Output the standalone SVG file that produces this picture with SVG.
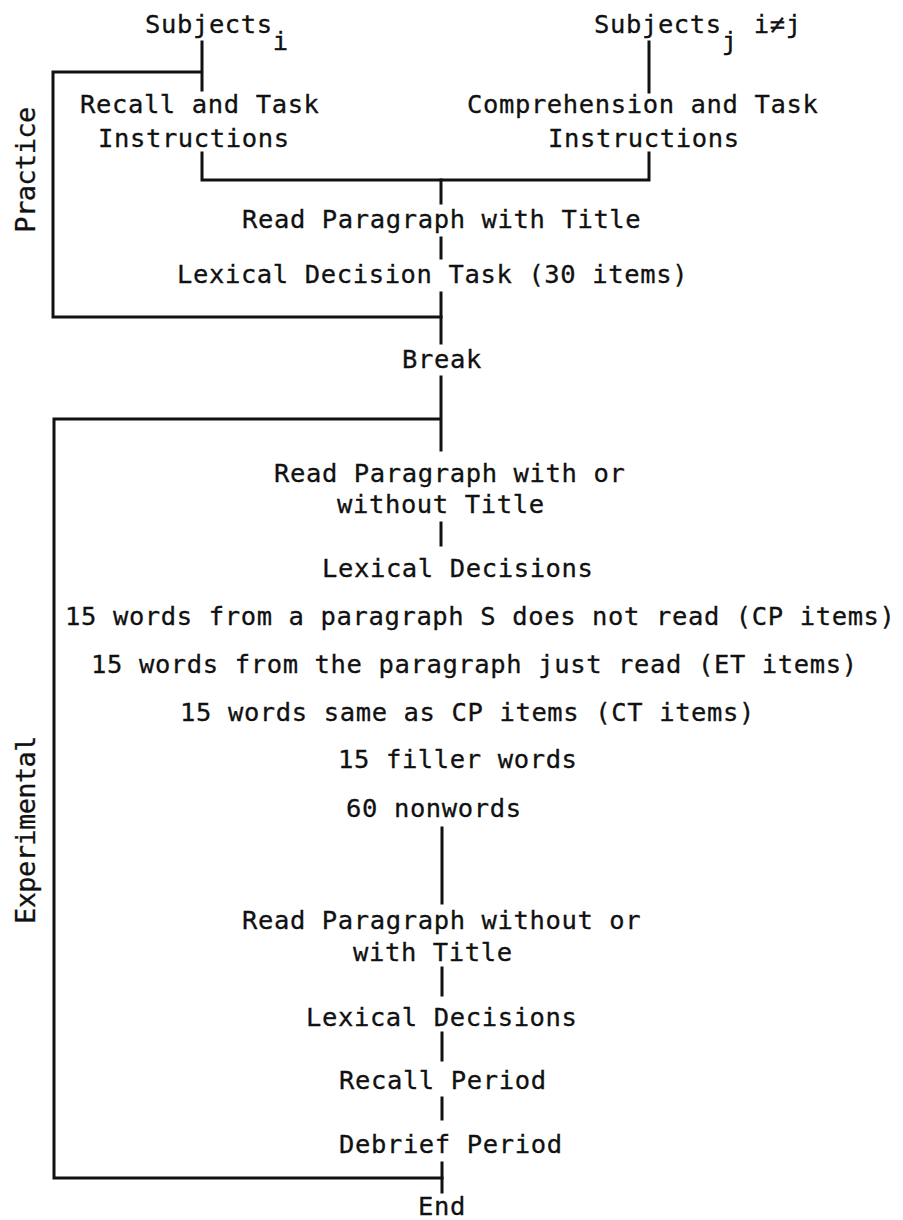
<svg xmlns="http://www.w3.org/2000/svg" width="903" height="1220" viewBox="0 0 903 1220">
<style>
text{font-family:"DejaVu Sans Mono","Liberation Mono",monospace;font-size:25.5px;letter-spacing:0.62px;fill:#111;stroke:#111;stroke-width:0.3}
.lbl{font-size:27px;letter-spacing:-0.6px;text-anchor:middle}
.c{stroke:#111;stroke-width:3;fill:none;stroke-linecap:square}
</style>
<rect width="903" height="1220" fill="#fff"/>
<g id="connectors" class="c">
<path d="M202 42V90M53 72H202M53 72V317H441"/>
<path d="M649 42V92"/>
<path d="M202 153V180H649V153"/>
<path d="M441 180V203M441 238V258M441 293V343"/>
<path d="M441 377V450M54 419H441M54 419V1178H442"/>
<path d="M441 523V545"/>
<path d="M442 828V903M442 968V995M442 1033V1060M442 1098V1119M442 1163V1192"/>
</g>
<g id="label-practice"><text class="lbl" transform="translate(35 170) rotate(-90)">Practice</text></g>
<g id="label-experimental"><text class="lbl" transform="translate(35 830) rotate(-90)">Experimental</text></g>
<g id="subjects-i"><text x="145" y="33">Subjects<tspan dy="17">i</tspan></text></g>
<g id="subjects-j"><text x="594" y="33">Subjects<tspan dy="17">j</tspan><tspan dy="-17"> i≠j</tspan></text></g>
<g id="recall-instr"><text x="80" y="113">Recall and Task</text><text x="98" y="147">Instructions</text></g>
<g id="comp-instr"><text x="467" y="113">Comprehension and Task</text><text x="548" y="147">Instructions</text></g>
<g id="read-practice"><text x="242" y="228">Read Paragraph with Title</text></g>
<g id="lex-practice"><text x="177" y="283">Lexical Decision Task (30 items)</text></g>
<g id="break"><text x="402" y="368">Break</text></g>
<g id="read-1"><text x="274" y="482">Read Paragraph with or</text><text x="337" y="513">without Title</text></g>
<g id="lex-1">
<text x="322" y="577">Lexical Decisions</text>
<text x="65" y="625">15 words from a paragraph S does not read (CP items)</text>
<text x="91" y="673">15 words from the paragraph just read (ET items)</text>
<text x="180" y="721">15 words same as CP items (CT items)</text>
<text x="338" y="768">15 filler words</text>
<text x="346" y="817">60 nonwords</text>
</g>
<g id="read-2"><text x="242" y="929">Read Paragraph without or</text><text x="353" y="961">with Title</text></g>
<g id="lex-2"><text x="306" y="1026">Lexical Decisions</text></g>
<g id="recall"><text x="339" y="1089">Recall Period</text></g>
<g id="debrief"><text x="339" y="1153">Debrief Period</text></g>
<g id="end"><text x="418" y="1215">End</text></g>
</svg>
